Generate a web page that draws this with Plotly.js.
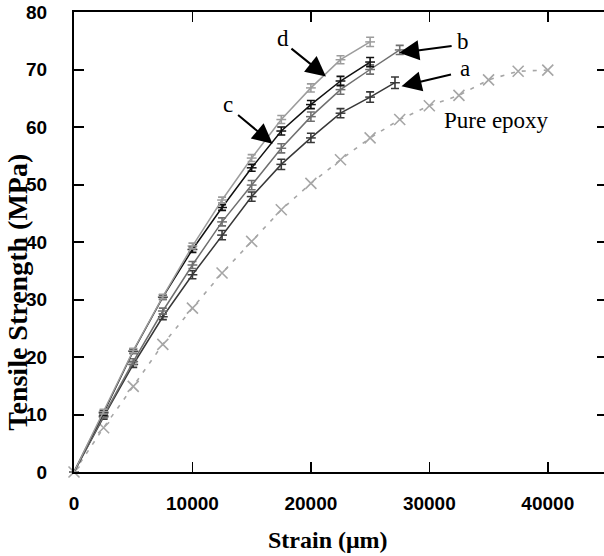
<!DOCTYPE html>
<html>
<head>
<meta charset="utf-8">
<script src="https://cdn.plot.ly/plotly-3.0.1.min.js"></script>
<style>
html,body{margin:0;padding:0;overflow:hidden;background:#fff;}
#chart{width:608px;height:556px;}
</style>
</head>
<body>
<div id="chart"></div>
<script>
// Strain (µm) values
const strainCDE = [0, 2500, 5000, 7500, 10000, 12500, 15000, 17500, 20000, 22500, 25000];
const strainB = [0, 2500, 5000, 7500, 10000, 12500, 15000, 17500, 20000, 22500, 25000, 27500];
const strainA = [0, 2500, 5000, 7500, 10000, 12500, 15000, 17500, 20000, 22500, 25000, 27100];
const strainEpoxy = [0, 2500, 5000, 7500, 10000, 12500, 15000, 17500, 20000, 22500, 25000, 27500, 30000, 32500, 35000, 37500, 40000];

// Tensile strength (MPa)
const seriesD = [0, 10.5, 21.1, 30.5, 39.3, 47.3, 54.6, 61.3, 66.8, 71.7, 74.8];
const errD    = [0, 0.4, 0.4, 0.4, 0.5, 0.5, 0.6, 0.7, 0.7, 0.7, 0.8];
const seriesC = [0, 10.3, 21.0, 30.4, 38.7, 46.0, 52.9, 59.3, 63.9, 68.0, 71.3];
const errC    = [0, 0.4, 0.4, 0.4, 0.5, 0.5, 0.6, 0.7, 0.7, 0.8, 0.8];
const seriesB = [0, 9.8, 19.2, 28.0, 36.0, 43.5, 49.9, 56.3, 61.8, 66.5, 70.0, 73.4];
const errB    = [0, 0.4, 0.5, 0.5, 0.6, 0.7, 0.8, 0.8, 0.8, 0.8, 0.8, 0.8];
const seriesA = [0, 9.6, 18.7, 27.0, 34.3, 41.2, 47.9, 53.5, 58.1, 62.4, 65.2, 67.7];
const errA    = [0, 0.4, 0.5, 0.5, 0.7, 0.8, 0.8, 0.9, 0.8, 0.8, 0.9, 1.0];
const seriesEpoxy = [0, 7.7, 14.9, 22.2, 28.5, 34.6, 40.1, 45.6, 50.2, 54.3, 58.1, 61.3, 63.7, 65.5, 68.2, 69.7, 69.9];

// Labels
const curveLabels = ['a', 'b', 'c', 'd'];
const epoxyLabel = 'Pure epoxy';
const xTitle = 'Strain (μm)';
const yTitle = 'Tensile Strength (MPa)';
const xTicks = [0, 10000, 20000, 30000, 40000];
const yTicks = [0, 10, 20, 30, 40, 50, 60, 70, 80];

function curve(x, y, err, color, name) {
  return {
    x: x, y: y, name: name, type: 'scatter', mode: 'lines+markers',
    line: {color: color, width: 1.5},
    marker: {symbol: 'line-ew', size: 7, line: {color: color, width: 1.5}, color: color},
    error_y: {type: 'data', array: err, visible: true, color: color, thickness: 1.6, width: 4},
    cliponaxis: false, showlegend: false
  };
}

const traces = [
  {
    x: strainEpoxy, y: seriesEpoxy, name: epoxyLabel, type: 'scatter', mode: 'lines+markers',
    line: {color: '#a6a6a6', width: 1.6, dash: '4px,7px'},
    marker: {symbol: 'x-thin', size: 11, line: {color: '#a6a6a6', width: 1.6}},
    cliponaxis: false, showlegend: false
  },
  curve(strainA, seriesA, errA, '#383838', 'a'),
  curve(strainB, seriesB, errB, '#6f6f6f', 'b'),
  curve(strainCDE, seriesC, errC, '#111111', 'c'),
  curve(strainCDE, seriesD, errD, '#9c9c9c', 'd')
];

const serif = 'Liberation Serif, Times New Roman, serif';
function arrow(x, y, ax, ay) {
  return {x: x, y: y, xref: 'x', yref: 'y', text: '', showarrow: true, ax: ax, ay: ay,
          arrowhead: 2, arrowsize: 2, arrowwidth: 2, arrowcolor: '#000', standoff: 0, startstandoff: 0};
}
function label(x, y, t) {
  return {x: x, y: y, xref: 'x', yref: 'y', text: t, showarrow: false,
          font: {family: serif, size: 23, color: '#000'}};
}

const annotations = [
  arrow(21270, 68.8, -36, -29), label(17630, 75.4, curveLabels[3]),
  arrow(16765, 57.1, -36, -30), label(12980, 63.9, curveLabels[2]),
  arrow(27450, 72.9, 54, -7), label(32820, 74.8, curveLabels[1]),
  arrow(27650, 67.1, 51, -12), label(32990, 70.2, curveLabels[0]),
  label(35660, 61.2, epoxyLabel),
  // axis titles
  {x: 0.476, y: -0.148, xref: 'paper', yref: 'paper', text: xTitle, showarrow: false,
   xanchor: 'center', yanchor: 'middle',
   font: {family: serif, size: 24, color: '#000', weight: 'bold'}},
  {x: -0.105, y: 0.39, xref: 'paper', yref: 'paper', text: yTitle, showarrow: false,
   textangle: -90, xanchor: 'center', yanchor: 'middle',
   font: {family: serif, size: 28, color: '#000', weight: 'bold'}}
];

const tickFont = {family: 'Liberation Sans, Arial, sans-serif', size: 19, color: '#000', weight: 'bold'};

const layout = {
  width: 608, height: 556,
  margin: {l: 73.5, r: 0.5, t: 11.7, b: 84.3},
  paper_bgcolor: '#fff', plot_bgcolor: '#fff',
  showlegend: false,
  xaxis: {
    range: [0, 45000], tickvals: xTicks, ticktext: xTicks.map(String),
    ticks: 'inside', ticklen: 10, tickwidth: 1.5, tickcolor: '#000',
    showline: true, linecolor: '#000', linewidth: 2, mirror: 'ticks',
    showgrid: false, zeroline: false, tickfont: tickFont, ticklabelstandoff: 13
  },
  yaxis: {
    range: [0, 80], tickvals: yTicks, ticktext: yTicks.map(String),
    ticks: 'inside', ticklen: 10, tickwidth: 2, tickcolor: '#000',
    showline: true, linecolor: '#000', linewidth: 2, mirror: 'ticks',
    showgrid: false, zeroline: false, tickfont: tickFont, ticklabelstandoff: 21
  },
  annotations: annotations
};

Plotly.newPlot('chart', traces, layout, {displayModeBar: false, staticPlot: true});
</script>
</body>
</html>
